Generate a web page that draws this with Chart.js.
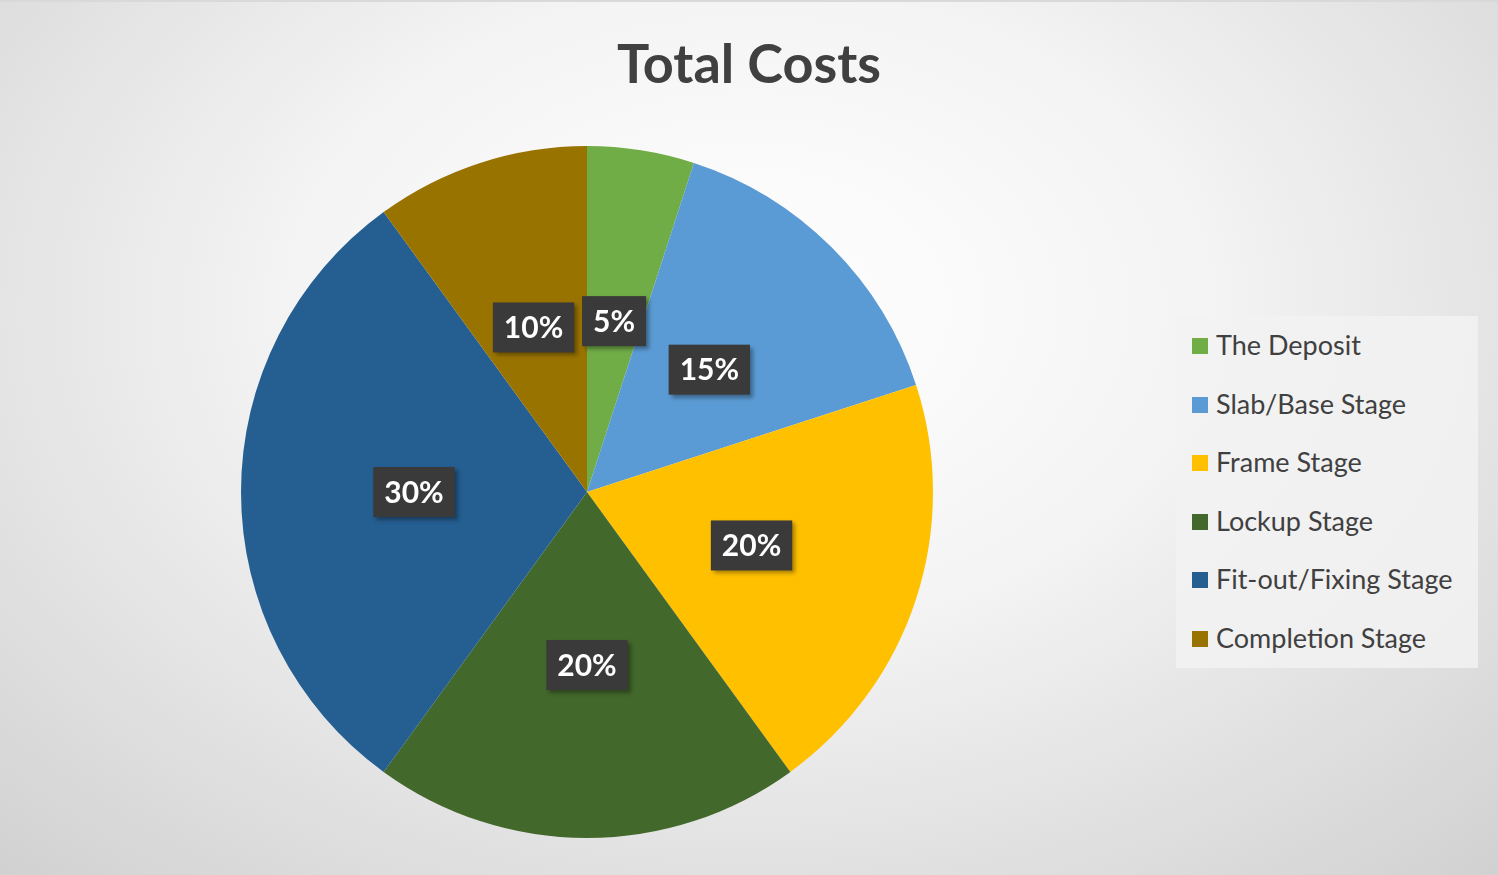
<!DOCTYPE html>
<html>
<head>
<meta charset="utf-8">
<script src="https://cdn.jsdelivr.net/npm/chart.js@4"></script>
<style>
  body { margin:0; width:1498px; height:875px; overflow:hidden; font-family: Lato, "Open Sans", sans-serif; }
  #bg { position:absolute; left:0; top:0; width:1498px; height:875px;
        background: radial-gradient(ellipse 75% 90% at 50% 35%, #ffffff 0%, #f4f4f4 40%, #d0d0d0 100%);
        border-top:2px solid #d9d9d9; box-sizing:border-box; }
  #title { position:absolute; left:0; width:1498px; top:30px; text-align:center; font-size:54px; font-weight:bold; color:#404040; }
  #wrap { position:absolute; left:241px; top:146px; width:692px; height:692px; }
  #legend { position:absolute; left:1176px; top:316px; width:302px; height:352px; background:rgba(242,242,242,0.85); }
  .item { position:absolute; left:16px; font-size:27px; color:#404040; }
  .sw { display:inline-block; width:16px; height:16px; margin-right:8px; vertical-align:1px; }
</style>
</head>
<body>
<div id="bg"></div>
<div id="title">Total Costs</div>
<div id="wrap"><canvas id="grafico"></canvas></div>
<div id="legend"></div>
<script>
// dados do grafico
var labels = ['The Deposit', 'Slab/Base Stage', 'Frame Stage', 'Lockup Stage', 'Fit-out/Fixing Stage', 'Completion Stage'];
var valores = [5, 15, 20, 20, 30, 10];
var cores = ['#70ad47', '#5b9bd5', '#ffc000', '#43682b', '#255e91', '#997300'];

// legenda em html
var leg = document.getElementById('legend');
labels.forEach(function (l, i) {
    var d = document.createElement('div');
    d.className = 'item';
    d.style.top = (12 + i * 58.5) + 'px';
    d.innerHTML = '<span class="sw" style="background:' + cores[i] + '"></span>' + l;
    leg.appendChild(d);
});

// rotulos com caixa escura
var rotulos = {
    id: 'rotulos',
    afterDatasetsDraw: function (chart) {
        var c = chart.ctx;
        var meta = chart.getDatasetMeta(0);
        c.save();
        c.font = 'bold 30px Lato, "Open Sans", sans-serif';
        c.textAlign = 'center';
        c.textBaseline = 'middle';
        meta.data.forEach(function (arc, i) {
            var a = (arc.startAngle + arc.endAngle) / 2;
            var r = arc.outerRadius * 0.5;
            var x = arc.x + Math.cos(a) * r, y = arc.y + Math.sin(a) * r;
            var t = valores[i] + '%';
            var w = c.measureText(t).width + 22, h = 50;
            c.shadowColor = 'rgba(0,0,0,0.35)';
            c.shadowOffsetX = 3; c.shadowOffsetY = 3; c.shadowBlur = 4;
            c.fillStyle = '#3a3a3a';
            c.fillRect(x - w / 2, y - h / 2, w, h);
            c.shadowColor = 'transparent';
            c.fillStyle = '#ffffff';
            c.fillText(t, x, y + 1);
        });
        c.restore();
    }
};

var ctx = document.querySelector('#grafico').getContext('2d');
new Chart(ctx, {
    type: 'pie',
    data: { labels: labels, datasets: [{ data: valores, backgroundColor: cores, borderColor: '#ffffff', borderWidth: 0 }] },
    options: {
        animation: false,
        responsive: true,
        maintainAspectRatio: false,
        layout: { padding: 0 },
        plugins: { legend: { display: false }, tooltip: { enabled: false } }
    },
    plugins: [rotulos]
});
</script>
</body>
</html>
